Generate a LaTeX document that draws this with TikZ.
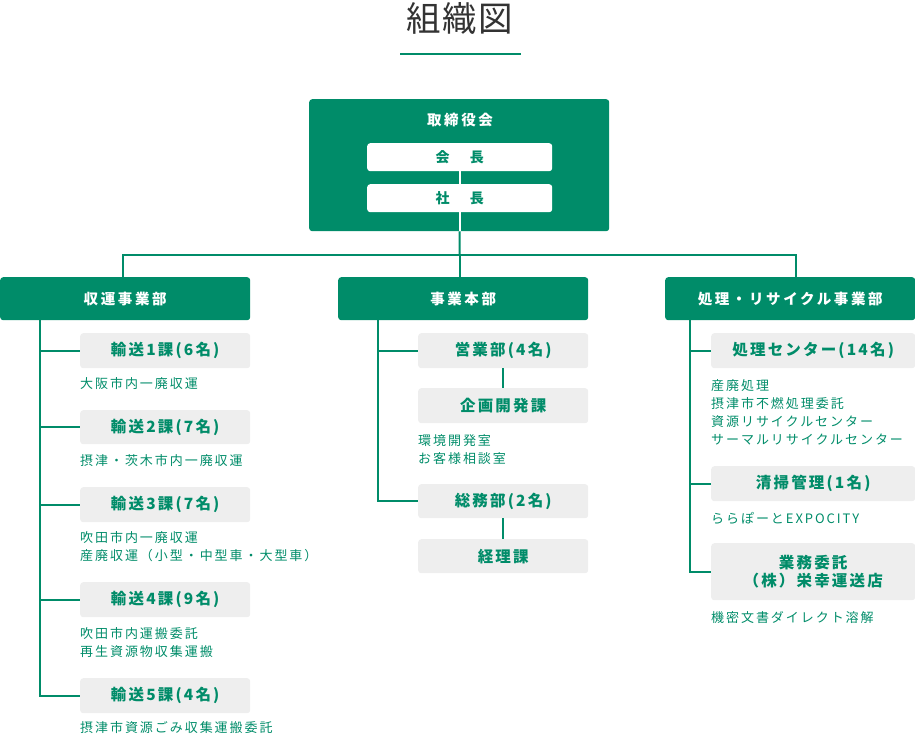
\documentclass[tikz,border=0pt]{standalone}
\usepackage{fontspec}
\setmainfont{Noto Sans CJK JP}
\newfontfamily\jpdesc[LetterSpace=15]{Noto Sans CJK JP}
\newfontfamily\jpbox[LetterSpace=14]{Noto Sans CJK JP}
\newfontfamily\jphead[LetterSpace=18]{Noto Sans CJK JP}
\newfontfamily\jpchair[LetterSpace=22]{Noto Sans CJK JP}
\newfontfamily\jptitle[LetterSpace=4]{Noto Sans CJK JP}
\definecolor{brand}{HTML}{008C69}
\definecolor{boxgray}{HTML}{EEEEEE}
\definecolor{titlegray}{HTML}{333333}
\tikzset{
  headbox/.style={fill=brand, text=white, rounded corners=3pt, inner sep=0pt, anchor=north west,
    minimum width=250pt, minimum height=43pt, font=\jphead\bfseries\fontsize{14.5}{16}\selectfont},
  subbox/.style={fill=boxgray, text=brand, rounded corners=3pt, inner sep=0pt, anchor=north west,
    align=center, font=\jpbox\bfseries\fontsize{15.5}{18}\selectfont},
  whitebox/.style={fill=white, text=brand, rounded corners=3pt, inner sep=0pt, anchor=north west,
    minimum width=185pt, minimum height=28pt, font=\jpchair\bfseries\fontsize{14}{16}\selectfont},
  desc/.style={text=brand, inner sep=0pt, anchor=west, align=left,
    font=\jpdesc\fontsize{13}{18}\selectfont},
  conn/.style={draw=brand, line width=2pt},
  wconn/.style={draw=white, line width=2pt}
}
\begin{document}
\begin{tikzpicture}[x=1pt,y=-1pt]
\useasboundingbox (0,0) rectangle (915,736);

% title
\node[text=titlegray, inner sep=0pt, font=\jptitle\fontsize{34.5}{40}\selectfont] (title) at (460,18) {組織図};
\coordinate (ulL) at (400,53.5);
\coordinate (ulR) at (521,53.5);
\draw[conn] (ulL) -- (ulR);

% board
\node[fill=brand, rounded corners=3pt, inner sep=0pt, anchor=north west, minimum width=300pt, minimum height=132pt] (board) at (309,99) {};
\node[text=white, inner sep=0pt, font=\jphead\bfseries\fontsize{14.5}{16}\selectfont] (boardtitle) at (460,120) {取締役会};
\node[whitebox] (chair) at (367,143) {会　長};
\node[whitebox] (pres) at (367,184) {社　長};
\draw[wconn] (chair) -- (pres);
\draw[wconn] (pres.south) -- (pres.south |- board.south);

% departments
\node[headbox] (d1) at (0,277) {収運事業部};
\node[headbox] (d2) at (338,277) {事業本部};
\node[headbox] (d3) at (665,277) {処理・リサイクル事業部};

\coordinate (j) at (459.5,255);
\draw[conn] (pres.south |- board.south) -- (j);
\draw[conn] ([xshift=-2pt]d1.north) |- (j) -| ([xshift=6pt]d3.north);
\draw[conn] (j) -- (j |- d2.north);

% left branch
\node[subbox, minimum width=170pt, minimum height=35pt] (s11) at (80,333) {輸送1課(6名)};
\node[desc] (t11) at (80,384) {大阪市内一廃収運};
\node[subbox, minimum width=170pt, minimum height=34pt] (s12) at (80,410) {輸送2課(7名)};
\node[desc] (t12) at (80,461) {摂津・茨木市内一廃収運};
\node[subbox, minimum width=170pt, minimum height=35pt] (s13) at (80,487) {輸送3課(7名)};
\node[desc] (t13) at (80,547) {吹田市内一廃収運\\産廃収運（小型・中型車・大型車）};
\node[subbox, minimum width=170pt, minimum height=35pt] (s14) at (80,582) {輸送4課(9名)};
\node[desc] (t14) at (80,642.5) {吹田市内運搬委託\\再生資源物収集運搬};
\node[subbox, minimum width=170pt, minimum height=35pt] (s15) at (80,678) {輸送5課(4名)};
\node[desc] (t15) at (80,728) {摂津市資源ごみ収集運搬委託};

\coordinate (v1) at (40,320);
\draw[conn] (v1) |- (s15.west);
\foreach \n in {s11,s12,s13,s14} \draw[conn] (v1 |- \n.west) -- (\n.west);

% middle branch
\node[subbox, minimum width=170pt, minimum height=35pt] (s21) at (418,333) {営業部(4名)};
\node[subbox, minimum width=170pt, minimum height=35pt] (s22) at (418,388) {企画開発課};
\node[desc] (t22) at (418,449.5) {環境開発室\\お客様相談室};
\node[subbox, minimum width=170pt, minimum height=34pt] (s23) at (418,484) {総務部(2名)};
\node[subbox, minimum width=170pt, minimum height=34pt] (s24) at (418,539) {経理課};
\draw[conn] (s21) -- (s22);
\draw[conn] (s23) -- (s24);
\coordinate (v2) at (378,320);
\draw[conn] (v2) |- (s23.west);
\draw[conn] (v2 |- s21.west) -- (s21.west);

% right branch
\node[subbox, minimum width=204pt, minimum height=35pt] (s31) at (711,333) {処理センター(14名)};
\node[desc] (t31) at (711,412) {産廃処理\\摂津市不燃処理委託\\資源リサイクルセンター\\サーマルリサイクルセンター};
\node[subbox, minimum width=204pt, minimum height=35pt] (s32) at (711,466) {清掃管理(1名)};
\node[desc] (t32) at (711,518) {ららぽーとEXPOCITY};
\node[subbox, minimum width=204pt, minimum height=57pt] (s33) at (711,543) {業務委託\\（株）栄幸運送店};
\node[desc] (t33) at (711,618) {機密文書ダイレクト溶解};
\coordinate (v3) at (690,320);
\draw[conn] (v3) |- (s33.west);
\foreach \n in {s31,s32} \draw[conn] (v3 |- \n.west) -- (\n.west);
\end{tikzpicture}
\end{document}
